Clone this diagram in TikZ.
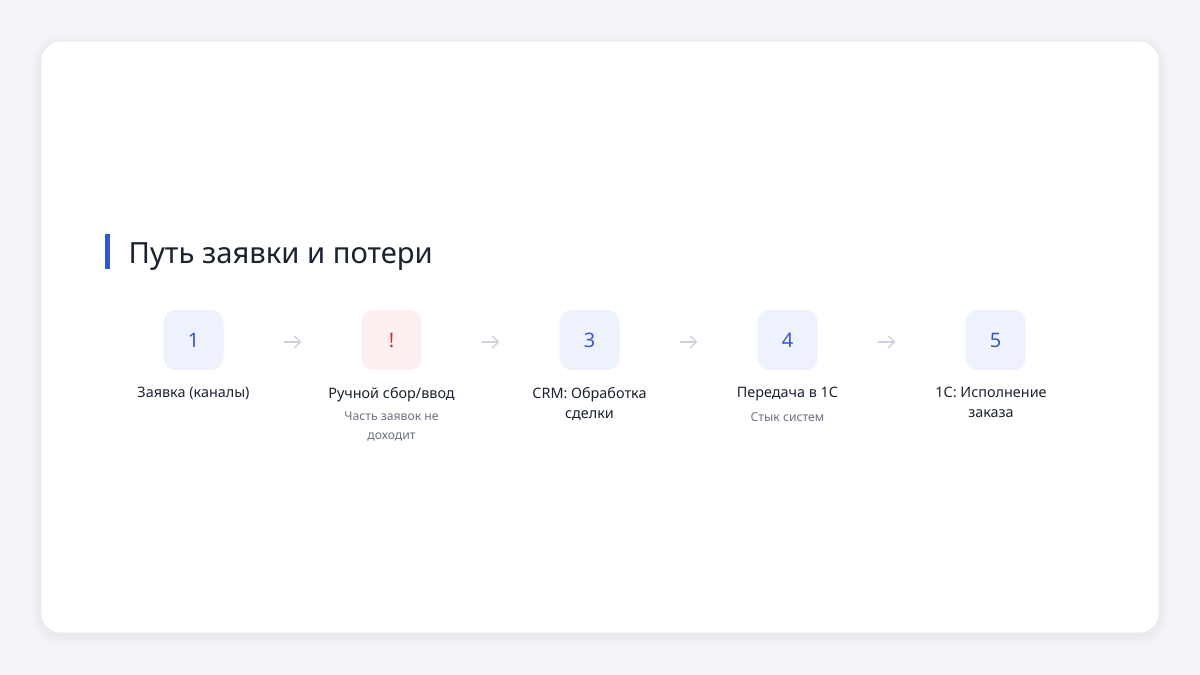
\documentclass[tikz,border=0pt]{standalone}
\usepackage{fontspec}
\setmainfont{Noto Sans}
\usetikzlibrary{arrows.meta}
\definecolor{bgc}{HTML}{F4F5F8}
\definecolor{cardedge}{HTML}{E8EAEF}
\definecolor{bluefill}{HTML}{EEF2FC}
\definecolor{bluetxt}{HTML}{3A5BC0}
\definecolor{redfill}{HTML}{FDEFEF}
\definecolor{redtxt}{HTML}{C62F3A}
\definecolor{darktxt}{HTML}{1B2230}
\definecolor{graytxt}{HTML}{6B7280}
\definecolor{arrowc}{HTML}{CDD2DC}
\definecolor{accent}{HTML}{2F5BC8}
\definecolor{shadowc}{HTML}{1B2230}
\tikzset{
  stepbox/.style={rounded corners=12pt, minimum width=60pt, minimum height=60pt, inner sep=0pt, font=\fontsize{20}{24}\selectfont},
  bluebox/.style={stepbox, fill=bluefill, text=bluetxt},
  redbox/.style={stepbox, fill=redfill, text=redtxt},
  steplabel/.style={text=darktxt, font=\fontsize{14.4}{20}\selectfont, align=center, anchor=north, inner sep=0pt},
  subtext/.style={text=graytxt, font=\fontsize{12.2}{19}\selectfont, align=center, anchor=north, inner sep=0pt},
  flow/.style={draw=arrowc, line width=1.3pt, line cap=round, -{Straight Barb[length=6pt,width=12pt,round]}}
}
\begin{document}
\begin{tikzpicture}[x=1pt,y=-1pt]
\useasboundingbox (0,0) rectangle (1200,675);
\fill[bgc] (0,0) rectangle (1200,675);
% soft shadow
\foreach \r in {1,2,...,10}{
  \fill[shadowc, opacity=0.004, rounded corners={20pt+\r pt}] (41-\r,41-\r+3) rectangle (1159+\r,633+\r+3);
}
\fill[white, draw=cardedge, line width=0.6pt, rounded corners=20pt] (41,41) rectangle (1159,633);
% title
\fill[accent] (105,234) rectangle (109.5,269);
\node[anchor=base west, inner sep=0pt, text=darktxt, font=\fontsize{29.2}{34}\selectfont] (title) at (128.5,263) {Путь заявки и потери};
% boxes
\node[bluebox] (b1) at (193.5,340) {1};
\node[redbox]  (b2) at (391.5,340) {!};
\node[bluebox] (b3) at (589.5,340) {3};
\node[bluebox] (b4) at (787.5,340) {4};
\node[bluebox] (b5) at (995.5,340) {5};
% labels
\node[steplabel] (l1) at (193.5,387) {Заявка (каналы)};
\node[steplabel] (l2) at (391.5,387) {Ручной сбор/ввод};
\node[subtext]   (s2) at (391.5,412) {Часть заявок не\\доходит};
\node[steplabel] (l3) at (589.5,387) {CRM: Обработка\\сделки};
\node[steplabel] (l4) at (787.5,387) {Передача в 1С};
\node[subtext]   (s4) at (787.5,412.5) {Стык систем};
\node[steplabel] (l5) at (991,387) {1С: Исполнение\\заказа};
% arrows
\coordinate (a1s) at (284,342); \coordinate (a1e) at (301,342);
\coordinate (a2s) at (482,342); \coordinate (a2e) at (499,342);
\coordinate (a3s) at (680,342); \coordinate (a3e) at (697,342);
\coordinate (a4s) at (878,342); \coordinate (a4e) at (895,342);
\draw[flow] (a1s) -- (a1e);
\draw[flow] (a2s) -- (a2e);
\draw[flow] (a3s) -- (a3e);
\draw[flow] (a4s) -- (a4e);
\end{tikzpicture}
\end{document}
